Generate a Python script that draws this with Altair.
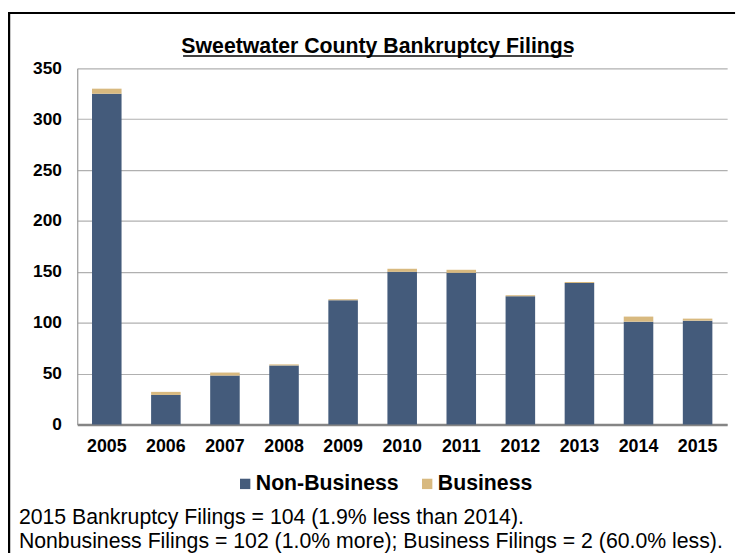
import altair as alt
import pandas as pd

years = ["2005", "2006", "2007", "2008", "2009", "2010", "2011", "2012", "2013", "2014", "2015"]
non_business = [325, 29, 48, 58, 122, 150, 149, 126, 139, 101, 102]
business = [5, 3, 3, 1, 1, 3, 3, 1, 1, 5, 2]
series = ["Non-Business", "Business"]
colors = ["#445B7B", "#D8B97F"]
y_ticks = [0, 50, 100, 150, 200, 250, 300, 350]
title_text = "Sweetwater County Bankruptcy Filings"
footer_lines = [
    "2015 Bankruptcy Filings = 104 (1.9% less than 2014).",
    "Nonbusiness Filings = 102 (1.0% more); Business Filings = 2 (60.0% less).",
]

rows = []
for yr, nb, b in zip(years, non_business, business):
    rows.append({"year": yr, "series": series[0], "value": nb, "ord": 0})
    rows.append({"year": yr, "series": series[1], "value": b, "ord": 1})
df = pd.DataFrame(rows)

FONT = "Arial, Liberation Sans, sans-serif"

bars = alt.Chart(df).mark_bar().encode(
    x=alt.X(
        "year:N",
        sort=years,
        scale=alt.Scale(paddingInner=0.5, paddingOuter=0.25),
        axis=alt.Axis(
            title=None, labelAngle=0, labelFont=FONT, labelFontSize=18,
            labelFontWeight="bold", labelColor="black", ticks=False,
            domainColor="#858585", domainWidth=2.5, labelPadding=13, grid=False,
        ),
    ),
    y=alt.Y(
        "value:Q",
        stack="zero",
        scale=alt.Scale(domain=[0, 350], nice=False),
        axis=alt.Axis(
            title=None, values=y_ticks, ticks=False, grid=True,
            gridColor="#b0b0b0", gridWidth=1.2, domainColor="#999999",
            domainWidth=1.2, labelFont=FONT, labelFontSize=17.5,
            labelFontWeight="bold", labelColor="black", labelPadding=16,
        ),
    ),
    color=alt.Color(
        "series:N",
        scale=alt.Scale(domain=series, range=colors),
        legend=alt.Legend(
            title=None, orient="none", legendX=159, legendY=409,
            direction="horizontal", symbolType="square", symbolSize=110,
            symbolStrokeWidth=0, labelFont=FONT, labelFontSize=21.5,
            labelFontWeight="bold", labelColor="black", columnPadding=17,
            labelOffset=0,
        ),
    ),
    order=alt.Order("ord:Q"),
)

title = alt.Chart(pd.DataFrame({"t": [title_text]})).mark_text(
    font=FONT, fontSize=21.5, fontWeight="bold", color="black",
    align="center", baseline="alphabetic",
).encode(text="t:N", x=alt.value(304), y=alt.value(-15))

underline = alt.Chart(pd.DataFrame({"k": [0]})).mark_rule(
    color="black", strokeWidth=1.5
).encode(x=alt.value(107), x2=alt.value(500), y=alt.value(-12.5))

foot1 = alt.Chart(pd.DataFrame({"t": [footer_lines[0]]})).mark_text(
    font=FONT, fontSize=21.5, color="black", align="left", baseline="middle",
).encode(text="t:N", x=alt.value(-59), y=alt.value(455))

foot2 = alt.Chart(pd.DataFrame({"t": [footer_lines[1]]})).mark_text(
    font=FONT, fontSize=21.5, color="black", align="left", baseline="middle",
).encode(text="t:N", x=alt.value(-59), y=alt.value(479))

frame_left = alt.Chart(pd.DataFrame({"k": [0]})).mark_rule(
    color="black", strokeWidth=2.5
).encode(x=alt.value(-69), y=alt.value(-56), y2=alt.value(490))

frame_top = alt.Chart(pd.DataFrame({"k": [0]})).mark_rule(
    color="black", strokeWidth=2
).encode(x=alt.value(-70), x2=alt.value(665), y=alt.value(-56))

chart = alt.layer(bars, title, underline, foot1, foot2, frame_left, frame_top).properties(
    width=657,
    height=360,
    padding={"left": 70, "top": 58, "right": 13, "bottom": 128},
    autosize=alt.AutoSizeParams(type="none"),
    background="white",
).configure_view(stroke=None)

chart.save("out.html", embed_options={"renderer": "svg", "actions": False})
